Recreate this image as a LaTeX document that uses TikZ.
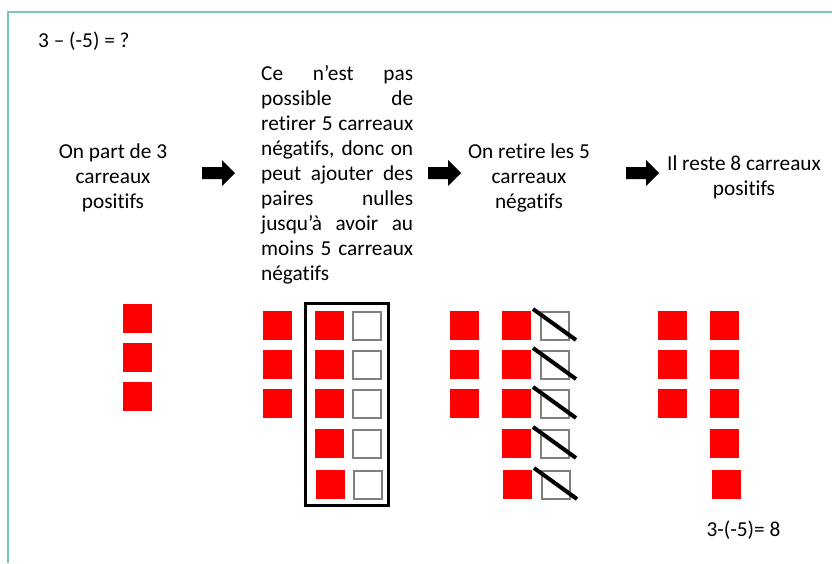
\documentclass[tikz,border=0pt]{standalone}
\usepackage{fontspec}
\setmainfont{Carlito}[Ligatures=NoCommon]
\definecolor{frameteal}{RGB}{122,196,187}
\definecolor{tilegray}{RGB}{127,127,127}

\begin{document}
\begin{tikzpicture}[x=1pt,y=-1pt,
        txt/.style={font=\fontsize{21.3}{25}\selectfont,inner sep=0pt},
        postile/.style={fill=red},
        negtile/.style={draw=tilegray,line width=1.6pt,fill=white},
        strike/.style={line width=4pt}]
        \useasboundingbox (0,0) rectangle (832,563);

        % Frame (teal, left and top)
        \draw[frameteal,line width=1.5pt] (8,563) -- (8,12) -- (832,12);

        % Question and answer
        \node[txt,anchor=base west] (question) at (38,47) {3 – (-5) = ?};
        \node[txt,anchor=base] (answer) at (743.5,536) {3-(-5)= 8};

        % Step texts
        \node[txt,anchor=north,align=center] (start) at (113,143.5) {On part de 3\\carreaux\\positifs};
        \node[txt,anchor=north west,text width=152pt,align=justify] (pairs) at (261,65.5)
            {Ce n’est pas\linebreak possible de\linebreak retirer 5 carreaux\linebreak négatifs, donc on\linebreak peut ajouter des\linebreak paires nulles\linebreak jusqu’à avoir au\linebreak moins 5 carreaux\linebreak négatifs};
        \node[txt,anchor=north,align=center] (remove) at (529,143.5) {On retire les 5\\carreaux\\négatifs};
        \node[txt,anchor=north,align=center] (result) at (744,155.5) {Il reste 8 carreaux\\positifs};

        % Block arrows between the steps
        \foreach \ax in {202,428,626} {
            \fill (\ax,167) -- (\ax+20,167) -- (\ax+20,160) -- (\ax+33,173)
                -- (\ax+20,186) -- (\ax+20,179) -- (\ax,179) -- cycle;
        }

        % Step 1: 3 positive tiles
        \foreach \y in {304,343,382}
            \fill[postile] (123,\y) rectangle ++(29,29);

        % Step 2: 3 positive tiles + 5 zero pairs in a box
        \foreach \y in {311,350,389}
            \fill[postile] (263,\y) rectangle ++(29,29);
        \foreach \y/\dx in {311/0,350/0,389/0,429/0,470/1} {
            \fill[postile] (315+\dx,\y) rectangle ++(29,29);
            \draw[negtile] (353+\dx,\y+1) rectangle ++(28,28);
        }
        \draw[line width=3pt] (305.5,303.5) rectangle (388.5,505.5);

        % Step 3: the 5 negative tiles are struck out
        \foreach \y in {311,350,389}
            \fill[postile] (450,\y) rectangle ++(29,29);
        \foreach \y/\dx in {311/0,350/0,389/0,429/0,470/1} {
            \fill[postile] (502+\dx,\y) rectangle ++(29,29);
            \draw[negtile] (541+\dx,\y+1) rectangle ++(28,28);
            \draw[strike] (533+\dx,\y-2) -- (576+\dx,\y+29);
        }

        % Step 4: 8 positive tiles remain
        \foreach \y in {311,350,389}
            \fill[postile] (658,\y) rectangle ++(29,29);
        \foreach \y/\dx in {311/0,350/0,389/0,429/0,470/2}
            \fill[postile] (710+\dx,\y) rectangle ++(29,29);
\end{tikzpicture}
\end{document}
